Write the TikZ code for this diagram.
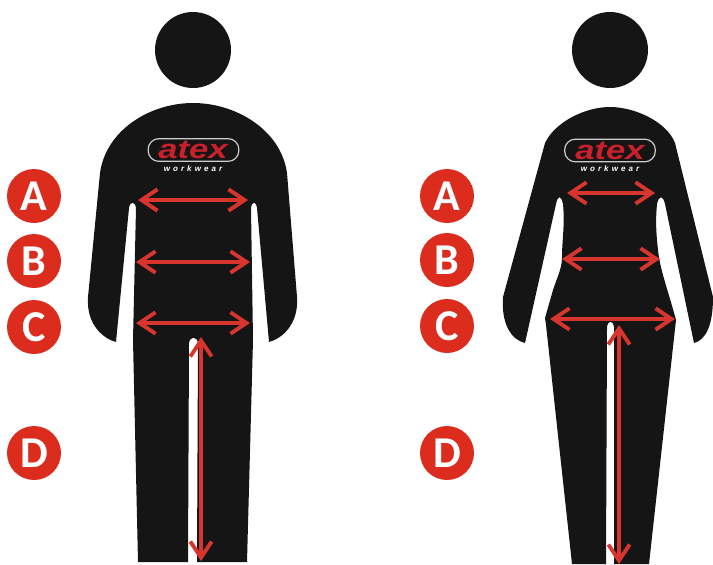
\documentclass[tikz,border=0pt]{standalone}
\usepackage{fontspec}
\setmainfont{Carlito}
\newfontfamily\logofont{Liberation Sans}
\usetikzlibrary{arrows.meta}
\definecolor{tela}{HTML}{151515}
\definecolor{rojo}{HTML}{DC2C1E}
\definecolor{flecha}{HTML}{D8352F}
\definecolor{marca}{HTML}{C9202C}
\newcommand{\lemaAtex}{w\kern2.3pt o\kern2.3pt r\kern2.3pt k\kern2.3pt w\kern2.3pt e\kern2.3pt a\kern2.3pt r}
\tikzset{
  letra/.style={circle, fill=rojo, text=white, minimum size=54pt*0.75, inner sep=0pt, font=\bfseries\fontsize{33}{33}\selectfont},
  medida/.style={draw=flecha, line width=2.9pt, {Straight Barb[length=12pt, width=16pt, line width=2.9pt]}-{Straight Barb[length=12pt, width=16pt, line width=2.9pt]}},
  ovalo/.style={draw=white!80!black, line width=0.9pt, rounded corners=8pt, minimum width=68pt, minimum height=17pt, inner sep=0pt},
  atex/.style={text=marca, inner sep=0pt, xscale=1.3, transform shape, font=\logofont\bfseries\itshape\fontsize{20}{20}\selectfont},
  workwear/.style={text=white, inner sep=0pt, font=\logofont\bfseries\itshape\fontsize{6}{6}\selectfont}
}
\begin{document}
\begin{tikzpicture}[x=0.75pt, y=-0.75pt]
    \useasboundingbox (0,0) rectangle (713,564);

    % Cabezas
    \fill[tela] (193,50) circle (38);
    \fill[tela] (610,50) circle (38);

    % Silueta del hombre
    \fill[tela] (138,562) -- (133,340) -- (136,208) .. controls (135,201) and (130,201) .. (129,208)
        -- (116,342) .. controls (104,339) and (86,325) .. (88,297)
        -- (100,173) .. controls (106,130) and (150,103) .. (193,103)
        .. controls (236,103) and (281,130) .. (287,173)
        -- (297,297) .. controls (299,325) and (281,339) .. (269,342)
        -- (257,208) .. controls (256,201) and (252,201) .. (251,208)
        -- (253,340) -- (247,562) -- (197,562) -- (198,343)
        .. controls (197,336) and (190,336) .. (189,343) -- (188,562) -- cycle;

    % Silueta de la mujer
    \fill[tela] (572,564) -- (546,325) -- (545,318) -- (553,290) .. controls (558,275) and (562,268) .. (562,257)
        .. controls (562,240) and (565,225) .. (563,204)
        .. controls (561,195) and (558,195) .. (556,204)
        -- (525,343) .. controls (512,340) and (501,325) .. (503,297)
        -- (545,143) .. controls (555,122) and (585,107) .. (610,107)
        .. controls (635,107) and (667,122) .. (675,143)
        -- (713,297) .. controls (713,325) and (706,340) .. (694,343)
        -- (665,204) .. controls (663,195) and (659,195) .. (657,204)
        .. controls (655,225) and (657,240) .. (658,250)
        .. controls (660,270) and (668,290) .. (676,320)
        -- (649,564) -- (614,564) -- (614,327)
        .. controls (613,320) and (608,320) .. (607,327) -- (606,564) -- cycle;

    % Logos
    \node[ovalo] at (193.5,150) {};
    \node[atex] at (193,150) {atex};
    \node[workwear] at (193,169) {\lemaAtex};
    \node[ovalo] at (610,150.5) {};
    \node[atex] at (610,150.5) {atex};
    \node[workwear] at (610,169) {\lemaAtex};

    % Letras de la izquierda
    \node[letra] (aH) at (34,196) {A};
    \node[letra] (bH) at (34,261) {B};
    \node[letra] (cH) at (34,327) {C};
    \node[letra] (dH) at (34,453) {D};

    % Letras de la derecha
    \node[letra] (aM) at (447,196) {A};
    \node[letra] (bM) at (447,260) {B};
    \node[letra] (cM) at (447,326) {C};
    \node[letra] (dM) at (447,453) {D};

    % Medidas del hombre
    \coordinate (a1) at (138,200); \coordinate (a2) at (248,200);
    \coordinate (b1) at (136,262); \coordinate (b2) at (250,262);
    \coordinate (c1) at (136,323); \coordinate (c2) at (250,323);
    \coordinate (d1) at (201,337); \coordinate (d2) at (201,561);
    \draw[medida] (a1) -- (a2);
    \draw[medida] (b1) -- (b2);
    \draw[medida] (c1) -- (c2);
    \draw[medida] (d1) -- (d2);

    % Medidas de la mujer
    \coordinate (e1) at (567,193); \coordinate (e2) at (655,193);
    \coordinate (f1) at (562,259); \coordinate (f2) at (660,259);
    \coordinate (g1) at (550,319); \coordinate (g2) at (675,319);
    \coordinate (h1) at (619,325); \coordinate (h2) at (619,564);
    \draw[medida] (e1) -- (e2);
    \draw[medida] (f1) -- (f2);
    \draw[medida] (g1) -- (g2);
    \draw[medida] (h1) -- (h2);
\end{tikzpicture}
\end{document}
